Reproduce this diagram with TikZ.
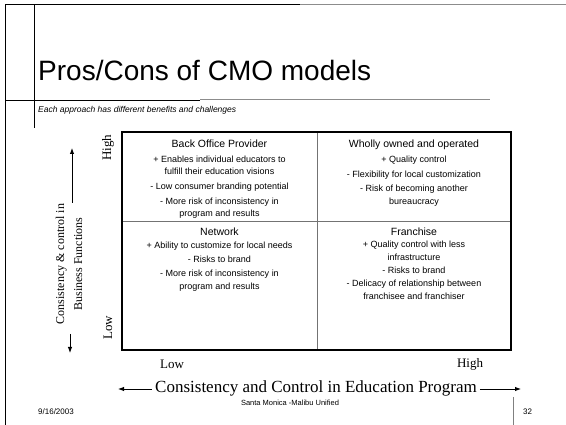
\documentclass[tikz,border=0pt]{standalone}
\usepackage{fontspec}
\setmainfont{Liberation Sans}
\newfontfamily\serifff{Liberation Serif}
\usetikzlibrary{arrows.meta}
\newcommand\cellhead[1]{{\fontsize{10.5}{12.5}\selectfont #1}}
\begin{document}
\begin{tikzpicture}[x=1pt,y=-1pt,
  cell/.style={font=\fontsize{9}{12.5}\selectfont, align=center, anchor=north, inner sep=0pt},
  axlab/.style={font=\serifff\fontsize{13}{15}\selectfont, inner sep=0pt},
  axarrow/.style={-{Latex[length=6pt,width=4.5pt]}, line width=0.9pt},
  frame/.style={line width=1pt},
  grid/.style={line width=0.6pt, black!55},
  foot/.style={font=\fontsize{8}{9}\selectfont, inner sep=0pt}]
\useasboundingbox[fill=white] (0,0) rectangle (566,425);
% slide frame
\draw[frame] (5,425) -- (5,5) -- (300,5);
\draw[frame, black!45] (300,5) -- (566,5);
\draw[line width=0.8pt] (34,5) -- (34,128);
\draw[line width=0.8pt] (5,100) -- (200,100);
\draw[line width=0.8pt, black!45] (200,99) -- (490,99);
\draw[line width=0.7pt, black!50] (513,397) -- (513,425);
% title
\node[anchor=base west, inner sep=0pt, font=\fontsize{28}{30}\selectfont] (title) at (38,81) {Pros/Cons of CMO models};
\node[anchor=base west, inner sep=0pt, font=\itshape\fontsize{8.5}{10}\selectfont] (sub) at (38,113) {Each approach has different benefits and challenges};
% grid
\coordinate (tl) at (122,132);
\coordinate (br) at (511,350);
\draw[grid] (317,132) -- (317,350);
\draw[grid] (122,221) -- (511,221);
\draw[line width=1.2pt] (tl) rectangle (br);
% cells
\node[cell] (bop) at (219.5,139.5) {\cellhead{Back Office Provider}\\[2.5pt]
+ Enables individual educators to\\ fulfill their education visions\\[2.5pt]
- Low consumer branding potential\\[2pt]
- More risk of inconsistency in\\ program and results};
\node[cell] (woo) at (414,139.5) {\cellhead{Wholly owned and operated}\\[2.5pt]
+ Quality control\\[2.5pt]
- Flexibility for local customization\\[2pt]
- Risk of becoming another\\ bureaucracy};
\node[cell] (net) at (219.5,227.5) {\cellhead{Network}\\[1pt]
+ Ability to customize for local needs\\[1.5pt]
- Risks to brand\\[1.5pt]
- More risk of inconsistency in\\ program and results};
\node[cell] (fra) at (414,227.5) {\cellhead{Franchise}\\[0pt]
+ Quality control with less\\ infrastructure\\[0.5pt]
- Risks to brand\\[1pt]
- Delicacy of relationship between\\ franchisee and franchiser};
% left axis
\node[axlab, rotate=90] (yhigh) at (108,148) {High};
\node[axlab, rotate=90] (ylow) at (108,328) {Low};
\node[axlab, rotate=90, align=center, font=\serifff\fontsize{12}{18}\selectfont] (ylab) at (69,264) {Consistency \& control in\\ Business Functions};
\coordinate (yup0) at (72,203);
\coordinate (yup1) at (72,148);
\coordinate (ydn0) at (70,334);
\coordinate (ydn1) at (70,353);
\draw[axarrow] (yup0) -- (yup1);
\draw[axarrow] (ydn0) -- (ydn1);
% bottom axis
\node[axlab] (xlow) at (172,364) {Low};
\node[axlab] (xhigh) at (470,364) {High};
\node[inner sep=0pt, font=\serifff\fontsize{17}{19}\selectfont] (xlab) at (316,388) {Consistency and Control in Education Program};
\coordinate (xl) at (118,389);
\coordinate (xr) at (521,389);
\draw[axarrow] ([xshift=-3pt]xlab.west |- xl) -- (xl);
\draw[axarrow] ([xshift=3pt]xlab.east |- xr) -- (xr);
% footer
\node[foot, anchor=base west] (date) at (38,414) {9/16/2003};
\node[foot, font=\fontsize{7.5}{9}\selectfont, anchor=base] (org) at (290,406) {Santa Monica -Malibu Unified};
\node[foot, anchor=base west] (page) at (523,414) {32};
\end{tikzpicture}
\end{document}
